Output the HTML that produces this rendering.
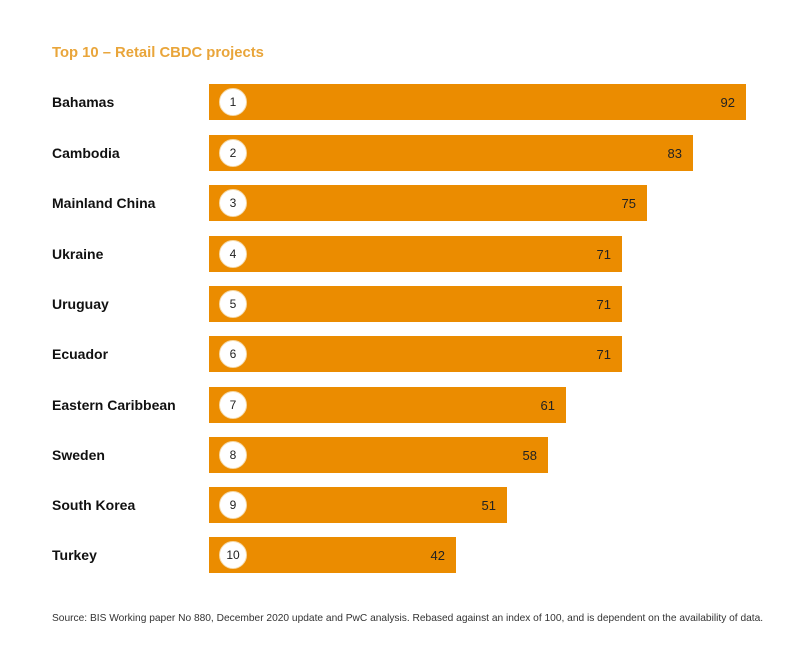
<!DOCTYPE html>
<html><head><style>
body{margin:0;width:809px;height:670px;background:#fff;font-family:"Liberation Sans",Arial,sans-serif;position:relative;overflow:hidden}
.t{position:absolute;left:52px;top:45px;font-size:14.8px;font-weight:bold;color:#e9a53a}
.l{position:absolute;left:52px;font-size:14px;font-weight:bold;color:#111;margin-top:-1px}
.b{position:absolute;left:209px;height:36px;background:#eb8c00}
.c{position:absolute;left:10px;top:4px;width:26px;height:26px;border-radius:50%;background:#fff;border:1px solid #f5d9a8;font-size:12px;line-height:27px;text-align:center;color:#222}
.v{position:absolute;right:11px;top:0;line-height:37px;font-size:13px;color:#222}
.s{position:absolute;left:52px;top:613px;font-size:10.2px;color:#333;white-space:nowrap}
</style></head><body>
<div class="t">Top 10 – Retail CBDC projects</div>
<div class="l" style="top:95px">Bahamas</div><div class="b" style="top:84px;width:537px"><div class="c">1</div><div class="v">92</div></div>
<div class="l" style="top:146px">Cambodia</div><div class="b" style="top:135px;width:484px"><div class="c">2</div><div class="v">83</div></div>
<div class="l" style="top:196px">Mainland China</div><div class="b" style="top:185px;width:438px"><div class="c">3</div><div class="v">75</div></div>
<div class="l" style="top:247px">Ukraine</div><div class="b" style="top:236px;width:413px"><div class="c">4</div><div class="v">71</div></div>
<div class="l" style="top:297px">Uruguay</div><div class="b" style="top:286px;width:413px"><div class="c">5</div><div class="v">71</div></div>
<div class="l" style="top:347px">Ecuador</div><div class="b" style="top:336px;width:413px"><div class="c">6</div><div class="v">71</div></div>
<div class="l" style="top:398px">Eastern Caribbean</div><div class="b" style="top:387px;width:357px"><div class="c">7</div><div class="v">61</div></div>
<div class="l" style="top:448px">Sweden</div><div class="b" style="top:437px;width:339px"><div class="c">8</div><div class="v">58</div></div>
<div class="l" style="top:498px">South Korea</div><div class="b" style="top:487px;width:298px"><div class="c">9</div><div class="v">51</div></div>
<div class="l" style="top:548px">Turkey</div><div class="b" style="top:537px;width:247px"><div class="c">10</div><div class="v">42</div></div>
<div class="s">Source: BIS Working paper No 880, December 2020 update and PwC analysis. Rebased against an index of 100, and is dependent on the availability of data.</div>
</body></html>
